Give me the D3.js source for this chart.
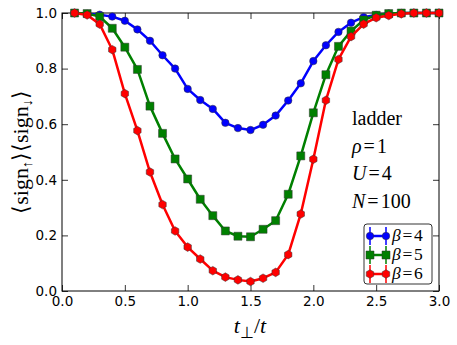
<!DOCTYPE html>
<html>
<head>
<meta charset="utf-8">
<script src="https://cdn.jsdelivr.net/npm/d3@7"></script>
<style>
  body { margin: 0; background: #fff; }
  svg { display: block; }
</style>
</head>
<body>
<div id="chart"></div>
<script>
// t_perp / t values
const tPerp = [0.1, 0.2, 0.3, 0.4, 0.5, 0.6, 0.7, 0.8, 0.9, 1.0,
               1.1, 1.2, 1.3, 1.4, 1.5, 1.6, 1.7, 1.8, 1.9, 2.0,
               2.1, 2.2, 2.3, 2.4, 2.5, 2.6, 2.7, 2.8, 2.9, 3.0]

const beta4 = [1.0, 0.997, 0.994, 0.987, 0.972, 0.941, 0.900, 0.848, 0.800, 0.727,
               0.687, 0.655, 0.605, 0.586, 0.579, 0.598, 0.631, 0.685, 0.747, 0.827,
               0.884, 0.932, 0.965, 0.985, 0.993, 0.998, 1.0, 1.0, 1.0, 1.0]
const beta5 = [1.0, 0.998, 0.987, 0.945, 0.877, 0.797, 0.665, 0.567, 0.475, 0.403,
               0.330, 0.271, 0.216, 0.197, 0.195, 0.222, 0.253, 0.348, 0.486, 0.641,
               0.778, 0.880, 0.935, 0.975, 0.992, 0.998, 1.0, 1.0, 1.0, 1.0]
const beta6 = [1.0, 0.993, 0.960, 0.868, 0.710, 0.577, 0.428, 0.311, 0.216, 0.158,
               0.115, 0.073, 0.050, 0.040, 0.034, 0.046, 0.067, 0.131, 0.277, 0.474,
               0.686, 0.833, 0.915, 0.960, 0.983, 0.991, 0.997, 1.0, 1.0, 1.0]

const xTicks = [0.0, 0.5, 1.0, 1.5, 2.0, 2.5, 3.0]
const yTicks = [0.0, 0.2, 0.4, 0.6, 0.8, 1.0]
const seriesNames = ["β=4", "β=5", "β=6"]
const seriesColors = ["#0000ff", "#008000", "#ff0000"]
const seriesMarkers = ["circle", "square", "hexagon"]
const annot = ["ladder", "ρ=1", "U=4", "N=100"]

let W = 457, H = 345
let margin = {top: 13, right: 18, bottom: 54, left: 62}

const svg = d3.select("#chart").append("svg")
    .attr("width", W).attr("height", H)

const x = d3.scaleLinear().domain([0, 3]).range([margin.left, W - margin.right])
const y = d3.scaleLinear().domain([0, 1]).range([H - margin.bottom, margin.top])

// marker shapes
const markerPath = (kind) => {
  if (kind === "circle") return d3.symbol(d3.symbolCircle, 44)()
  if (kind === "square") return "M-4,-4H4V4H-4Z"
  // hexagon, point up
  const r = 4.3
  return d3.range(6).map(i => {
    const a = Math.PI / 2 + i * Math.PI / 3
    return (i ? "L" : "M") + (r * Math.cos(a)).toFixed(2) + "," + (-r * Math.sin(a)).toFixed(2)
  }).join("") + "Z"
}

const plotW = x(3) - x(0), plotH = y(0) - y(1)

// axes: ticks inside, on all four sides
const gx = svg.append("g").attr("transform", `translate(0,${y(0)})`)
  .call(d3.axisBottom(x).tickValues(xTicks).tickFormat(d3.format(".1f")).tickSizeInner(-6).tickSizeOuter(0).tickPadding(5))
const gxt = svg.append("g").attr("transform", `translate(0,${y(1)})`)
  .call(d3.axisTop(x).tickValues(xTicks).tickFormat("").tickSizeInner(-6).tickSizeOuter(0))
const gy = svg.append("g").attr("transform", `translate(${x(0)},0)`)
  .call(d3.axisLeft(y).tickValues(yTicks).tickFormat(d3.format(".1f")).tickSizeInner(-6).tickSizeOuter(0).tickPadding(5))
const gyr = svg.append("g").attr("transform", `translate(${x(3)},0)`)
  .call(d3.axisRight(y).tickValues(yTicks).tickFormat("").tickSizeInner(-6).tickSizeOuter(0))

;[gx, gxt, gy, gyr].forEach(g => {
  g.select(".domain").remove()
  g.selectAll("line").attr("stroke", "#000").attr("stroke-width", 0.8)
  g.selectAll("text").attr("fill", "#000").style("font-family", "DejaVu Sans").style("font-size", "13.5px")
})

svg.append("rect")
  .attr("x", x(0)).attr("y", y(1)).attr("width", plotW).attr("height", plotH)
  .attr("fill", "none").attr("stroke", "#000").attr("stroke-width", 1)

// series
const allSeries = [beta4, beta5, beta6]
const line = d3.line().x(d => x(d[0])).y(d => y(d[1]))

allSeries.forEach((vals, i) => {
  const pts = tPerp.map((t, j) => [t, vals[j]])
  const g = svg.append("g")
  g.append("path").datum(pts).attr("d", line)
    .attr("fill", "none").attr("stroke", seriesColors[i]).attr("stroke-width", 2.5)
    .attr("stroke-linejoin", "round")
  g.selectAll("path.m").data(pts).enter().append("path")
    .attr("class", "m")
    .attr("d", markerPath(seriesMarkers[i]))
    .attr("transform", d => `translate(${x(d[0])},${y(d[1])})`)
    .attr("fill", seriesColors[i]).attr("stroke", "#333").attr("stroke-width", 0.5)
})

// math-ish text: italic symbol, then " = value" with spacing
const mathText = (parent, px, py, size, str) => {
  const [sym, val] = str.split("=")
  const t = parent.append("text").attr("x", px).attr("y", py)
    .style("font-family", "Liberation Serif").style("font-size", size + "px")
  t.append("tspan").style("font-style", "italic").text(sym)
  t.append("tspan").attr("dx", size * 0.1).text("=")
  t.append("tspan").attr("dx", size * 0.1).text(val)
  return t
}

// annotation text
const ann = svg.append("g").attr("fill", "#000")
ann.append("text").attr("x", 352).attr("y", 125)
  .style("font-family", "Liberation Serif").style("font-size", "20px").text(annot[0])
mathText(ann, 352, 153, 20, annot[1])
mathText(ann, 352, 180, 20, annot[2])
mathText(ann, 352, 208, 20, annot[3])

// legend
const leg = svg.append("g")
leg.append("rect").attr("x", 364).attr("y", 224).attr("width", 68).attr("height", 60)
  .attr("rx", 3).attr("fill", "#fff").attr("stroke", "#000").attr("stroke-width", 0.8)
seriesNames.forEach((name, i) => {
  const ly = 236 + i * 19
  const g = leg.append("g")
  ;[370, 386].forEach(lx => {
    g.append("line").attr("x1", lx).attr("x2", lx).attr("y1", ly - 9).attr("y2", ly + 9)
      .attr("stroke", seriesColors[i]).attr("stroke-width", 2).attr("opacity", 0.75)
  })
  g.append("line").attr("x1", 370).attr("x2", 386).attr("y1", ly).attr("y2", ly)
    .attr("stroke", seriesColors[i]).attr("stroke-width", 2.5)
  ;[370, 386].forEach(lx => {
    g.append("path").attr("d", markerPath(seriesMarkers[i]))
      .attr("transform", `translate(${lx},${ly})`)
      .attr("fill", seriesColors[i]).attr("stroke", "#333").attr("stroke-width", 0.5)
  })
  mathText(g, 392, ly + 5, 17.5, name)
})

// axis labels
const xl = svg.append("text").attr("x", 250).attr("y", 333).attr("text-anchor", "middle")
  .style("font-family", "Liberation Serif").style("font-size", "22px")
xl.append("tspan").style("font-style", "italic").text("t")
xl.append("tspan").attr("dy", 5).style("font-size", "16px").text("⊥")
xl.append("tspan").attr("dy", -5).text("/")
xl.append("tspan").style("font-style", "italic").text("t")

const yl = svg.append("text").attr("transform", "translate(28,152) rotate(-90)")
  .attr("text-anchor", "middle")
  .style("font-family", "Liberation Serif").style("font-size", "22px")
yl.append("tspan").text("⟨sign")
yl.append("tspan").attr("dy", 4).style("font-size", "14px").text("↑")
yl.append("tspan").attr("dy", -4).text("⟩⟨sign")
yl.append("tspan").attr("dy", 4).style("font-size", "14px").text("↓")
yl.append("tspan").attr("dy", -4).text("⟩")
</script>
</body>
</html>
